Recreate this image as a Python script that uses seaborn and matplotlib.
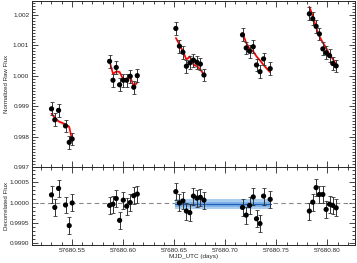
import numpy as np
import pandas as pd
import seaborn as sns
import matplotlib.pyplot as plt
from matplotlib.ticker import MultipleLocator, FormatStrFormatter

# --- data (time offsets from MJD 57680) ---
t_off = [0.5301, 0.5333, 0.5370, 0.5438, 0.5474, 0.5503,
         0.5869, 0.5902, 0.5934, 0.5967, 0.6003, 0.6036, 0.6071, 0.6105, 0.6140,
         0.6517, 0.6552, 0.6586, 0.6620, 0.6654, 0.6689, 0.6723, 0.6757, 0.6792,
         0.7169, 0.7205, 0.7238, 0.7274, 0.7306, 0.7340, 0.7375, 0.7440,
         0.7823, 0.7856, 0.7889, 0.7921, 0.7955, 0.7987, 0.8020, 0.8052, 0.8085]
visit = [1] * 6 + [2] * 9 + [3] * 9 + [4] * 8 + [5] * 9

raw_flux = [0.99891, 0.99855, 0.99886, 0.99835, 0.99781, 0.99792,
            1.00047, 0.99985, 1.00027, 0.99970, 0.99985, 0.99985, 0.99998, 0.99962, 1.00000,
            1.00155, 1.00097, 1.00077, 1.00031, 1.00042, 1.00051, 1.00044, 1.00038, 1.00002,
            1.00134, 1.00091, 1.00080, 1.00095, 1.00035, 1.00013, 1.00055, 1.00023,
            1.00203, 1.00187, 1.00162, 1.00137, 1.00088, 1.00075, 1.00066, 1.00040, 1.00032]

model_flux = [0.99875, 0.99862, 0.99850, 0.99840, 0.99832, 0.99786,
              1.00047, 1.00006, 1.00014, 1.00012, 0.99987, 0.99990, 0.99996, 0.99965, 0.99978,
              1.00124, 1.00102, 1.00080, 1.00053, 1.00063, 1.00036, 1.00031, 1.00020, 1.00003,
              1.00140, 1.00108, 1.00088, 1.00080, 1.00063, 1.00050, 1.00035, 1.00011,
              1.00226, 1.00197, 1.00157, 1.00129, 1.00108, 1.00091, 1.00069, 1.00055, 1.00036]

detrended = [1.00019, 0.99988, 1.00035, 0.99994, 0.99943, 0.99999,
             0.99993, 0.99996, 1.00010, 0.99956, 1.00006, 0.99991, 1.00000, 1.00017, 1.00021,
             1.00027, 0.99999, 1.00004, 0.99979, 0.99975, 1.00016, 1.00011, 1.00013, 1.00006,
             0.99988, 0.99969, 0.99993, 1.00014, 0.99960, 0.99948, 1.00016, 1.00008,
             0.99979, 1.00001, 1.00037, 1.00020, 1.00020, 0.99983, 0.99996, 0.99993, 0.99987]

flux_err = [0.00021] * len(t_off)

# fitted constant level (blue band) and its extent
fit_level = 0.99996
fit_sigma = 0.00012
fit_t0, fit_t1 = 0.6510, 0.7445

MJD0 = 57680.0
df = pd.DataFrame({"t": np.array(t_off) + MJD0, "visit": visit, "raw": raw_flux,
                   "model": model_flux, "det": detrended, "err": flux_err})

sns.set_style("ticks")
plt.rcParams['font.family'] = ['Liberation Sans', 'DejaVu Sans']
plt.rcParams['font.size'] = 4.6
plt.rcParams['xtick.direction'] = 'in'
plt.rcParams['ytick.direction'] = 'in'

fig = plt.figure(figsize=(3.57, 2.63), dpi=100)
ax1 = fig.add_axes([0.0896, 0.365, 0.905, 0.631])
ax2 = fig.add_axes([0.0896, 0.0684, 0.905, 0.2966], sharex=ax1)

# --- top: raw flux + model ---
for v, g in df.groupby("visit"):
    ax1.fill_between(g["t"], g["model"] - 0.00006, g["model"] + 0.00006,
                     color="#d8d8d8", lw=0, zorder=1)
sns.lineplot(data=df, x="t", y="model", units="visit", estimator=None,
             color="red", lw=1.2, ax=ax1, zorder=2, legend=False)
ax1.errorbar(df["t"], df["raw"], yerr=df["err"], fmt="none", ecolor="#333333",
             elinewidth=0.7, capsize=1.7, capthick=0.6, zorder=3)
sns.scatterplot(data=df, x="t", y="raw", color="black", s=14, edgecolor="none",
                ax=ax1, zorder=4, legend=False)

# --- bottom: decorrelated flux ---
ax2.axhline(1.0, color="#888888", ls=(0, (4, 3)), lw=0.8, zorder=1)
ax2.fill_between([fit_t0 + MJD0, fit_t1 + MJD0], fit_level - fit_sigma, fit_level + fit_sigma,
                 color="#a9cdf0", lw=0, zorder=1)
ax2.fill_between([fit_t0 + MJD0, fit_t1 + MJD0], fit_level - fit_sigma / 2, fit_level + fit_sigma / 2,
                 color="#7fb3e6", lw=0, zorder=1)
ax2.plot([fit_t0 + MJD0, fit_t1 + MJD0], [fit_level, fit_level], color="#2060c0", lw=0.9, zorder=2)
ax2.errorbar(df["t"], df["det"], yerr=df["err"], fmt="none", ecolor="#333333",
             elinewidth=0.7, capsize=1.7, capthick=0.6, zorder=3)
sns.scatterplot(data=df, x="t", y="det", color="black", s=14, edgecolor="none",
                ax=ax2, zorder=4, legend=False)

# --- axes styling (IDL look) ---
ax1.set_xlim(57680.511, 57680.827)
ax1.set_ylim(0.997, 1.00245)
ax2.set_ylim(0.99895, 1.00088)

ax1.yaxis.set_major_locator(MultipleLocator(0.001))
ax1.yaxis.set_minor_locator(MultipleLocator(0.0001))
ax1.yaxis.set_major_formatter(FormatStrFormatter("%.3f"))
ax2.yaxis.set_major_locator(MultipleLocator(0.0005))
ax2.yaxis.set_minor_locator(MultipleLocator(0.0001))
ax2.yaxis.set_major_formatter(FormatStrFormatter("%.4f"))
ax2.xaxis.set_major_locator(MultipleLocator(0.05))
ax2.xaxis.set_minor_locator(MultipleLocator(0.01))
ax2.xaxis.set_major_formatter(FormatStrFormatter("%.2f"))

for ax in (ax1, ax2):
    ax.tick_params(which="both", top=True, right=True, direction="in",
                   width=0.6, labelsize=4.6, pad=2)
    ax.tick_params(which="major", length=4)
    ax.tick_params(which="minor", length=2)
    for sp in ax.spines.values():
        sp.set_linewidth(0.7)

ax1.tick_params(labelbottom=False)
ax1.set_xlabel("")
ax1.set_ylabel("Normalized Raw Flux", fontsize=4.4)
ax2.set_ylabel("Decorrelated Flux", fontsize=4.4)
ax2.set_xlabel("MJD_UTC (days)", fontsize=4.6, labelpad=1.2)
ax1.yaxis.set_label_coords(-0.072, 0.5)
ax2.yaxis.set_label_coords(-0.072, 0.5)

fig.savefig("out.png", dpi=100)
